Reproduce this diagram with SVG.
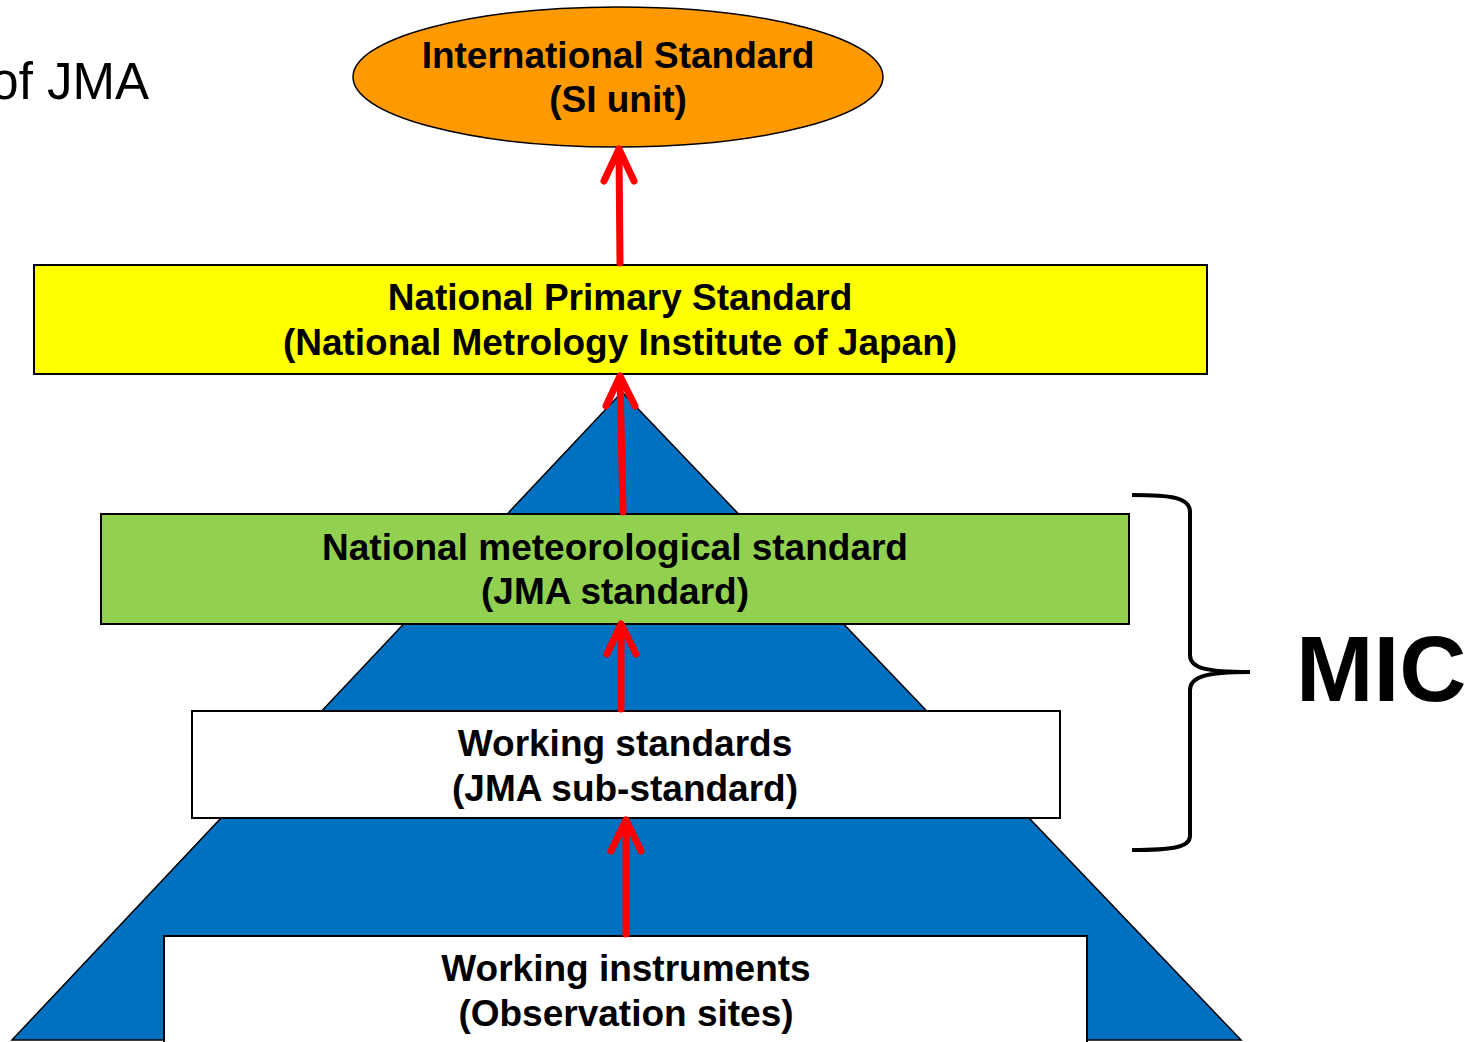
<svg xmlns="http://www.w3.org/2000/svg" width="1475" height="1042" viewBox="0 0 1475 1042">
<style>
.t{font-family:"Liberation Sans",Arial,sans-serif;font-weight:bold;font-size:37px;fill:#000;text-anchor:middle}
.box{stroke:#000;stroke-width:2}
.arr{stroke:#FF0000;stroke-width:7;fill:none;stroke-linecap:round;stroke-linejoin:round}
</style>
<rect x="0" y="0" width="1475" height="1042" fill="#fff"/>
<text x="149" y="99" font-family="'Liberation Sans',Arial,sans-serif" font-size="51" text-anchor="end" fill="#000">of JMA</text>
<g id="pyramid">
<polygon points="622,392 1241,1040 12,1040" fill="#0070C0" stroke="#000" stroke-width="1.5"/>
</g>
<g id="node-international">
<ellipse cx="618" cy="77" rx="265" ry="70" fill="#FF9900" stroke="#000" stroke-width="1.5"/>
<text class="t" x="618" y="68">International Standard</text>
<text class="t" x="618" y="112">(SI unit)</text>
</g>
<g id="node-national-primary">
<rect class="box" x="34" y="265" width="1173" height="109" fill="#FFFF00"/>
<text class="t" x="620" y="310">National Primary Standard</text>
<text class="t" x="620" y="355">(National Metrology Institute of Japan)</text>
</g>
<g id="node-meteorological">
<rect class="box" x="101" y="514" width="1028" height="110" fill="#92D050"/>
<text class="t" x="615" y="560">National meteorological standard</text>
<text class="t" x="615" y="604">(JMA standard)</text>
</g>
<g id="node-working-standards">
<rect class="box" x="192" y="711" width="868" height="107" fill="#fff"/>
<text class="t" x="625" y="756">Working standards</text>
<text class="t" x="625" y="801">(JMA sub-standard)</text>
</g>
<g id="node-working-instruments">
<rect class="box" x="164" y="936" width="923" height="130" fill="#fff"/>
<text class="t" x="626" y="981">Working instruments</text>
<text class="t" x="626" y="1026">(Observation sites)</text>
</g>
<g id="connectors">
<path class="arr" d="M620 263 L619 151"/>
<path class="arr" d="M604 181 L619 149 L634 181"/>
<path class="arr" d="M623 512 L620 379"/>
<path class="arr" d="M606 406 L620 376 L635 406"/>
<path class="arr" d="M621 709 L621 627"/>
<path class="arr" d="M607 654 L621 624 L636 654"/>
<path class="arr" d="M626 934 L626 823"/>
<path class="arr" d="M611 851 L626 820 L641 851"/>
</g>
<g id="mic">
<path d="M1132 495 C1170 495 1190 497 1190 512 L1190 655 C1190 668 1205 672 1250 672 C1205 672 1190 677 1190 690 L1190 836 C1190 848 1170 850 1132 850" fill="none" stroke="#000" stroke-width="4"/>
<text x="1296" y="701" font-family="'Liberation Sans',Arial,sans-serif" font-weight="bold" font-size="93" fill="#000">MIC</text>
</g>
</svg>
